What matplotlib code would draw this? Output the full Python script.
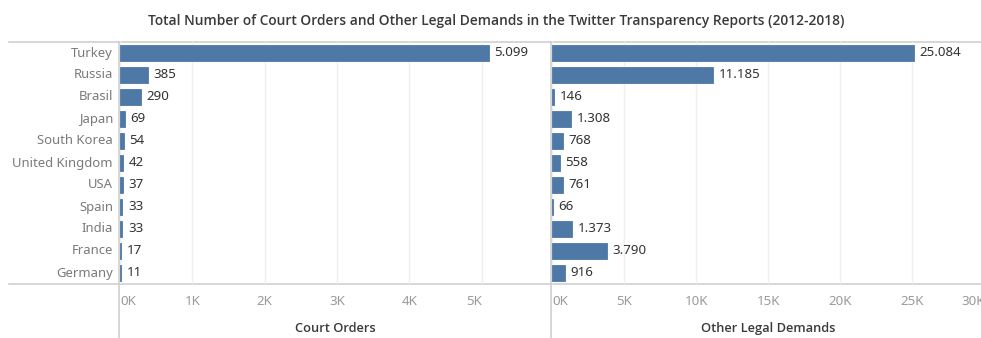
import matplotlib
matplotlib.use("Agg")
import matplotlib.pyplot as plt
from matplotlib.lines import Line2D

countries = ["Turkey", "Russia", "Brasil", "Japan", "South Korea", "United Kingdom",
             "USA", "Spain", "India", "France", "Germany"]
court_orders = [5099, 385, 290, 69, 54, 42, 37, 33, 33, 17, 11]
other_demands = [25084, 11185, 146, 1308, 768, 558, 761, 66, 1373, 3790, 916]
court_ticks = [0, 1000, 2000, 3000, 4000, 5000]
other_ticks = [0, 5000, 10000, 15000, 20000, 25000, 30000]

title = "Total Number of Court Orders and Other Legal Demands in the Twitter Transparency Reports (2012-2018)"

BAR = "#4e79a7"
FONT = ["Noto Sans", "DejaVu Sans"]
HEAD = ["Open Sans", "Noto Sans", "DejaVu Sans"]
plt.rcParams["font.family"] = FONT

W, H = 981, 338
fig = plt.figure(figsize=(W / 100, H / 100), dpi=100)


def fx(px):
    return px / W


def fy(py):
    return 1 - py / H


top_px, bot_px = 42, 284
left_box = [fx(120), fy(bot_px), fx(551 - 120), fy(top_px) - fy(bot_px)]
right_box = [fx(552), fy(bot_px), fx(984.5 - 552), fy(top_px) - fy(bot_px)]
ax1 = fig.add_axes(left_box)
ax2 = fig.add_axes(right_box)

ypos = list(range(len(countries)))


def thousands(v):
    return f"{v:,}".replace(",", ".")


def kfmt(v):
    return f"{int(v / 1000)}K"


def draw_panel(ax, values, ticks, xmax, label):
    ax.barh(ypos, values, height=0.72, color=BAR, edgecolor=BAR, lw=0.6, zorder=2)
    ax.set_ylim(len(countries) - 0.5, -0.5)
    ax.set_xlim(0, xmax)
    ax.set_yticks([])
    ax.set_xticks(ticks)
    ax.set_xticklabels([kfmt(t) for t in ticks], color="#9a9a9a", fontsize=9.6)
    ax.tick_params(axis="x", length=0, pad=8)
    labels = ax.get_xticklabels()
    labels[0].set_horizontalalignment("left")
    labels[-1].set_horizontalalignment("right")
    ax.grid(axis="x", color="#efefef", lw=1, zorder=0)
    for s in ax.spines.values():
        s.set_visible(False)
    for y, v in zip(ypos, values):
        ax.annotate(thousands(v), (v, y), xytext=(4, 0), textcoords="offset points",
                    va="center", ha="left", fontsize=9.6, color="#333333")
    ax.set_xlabel(label, fontsize=9.3, color="#3a3a3a", fontweight="semibold",
                  family=HEAD, labelpad=10)
    ax.patch.set_alpha(0)


draw_panel(ax1, court_orders, court_ticks, 5960, "Court Orders")
draw_panel(ax2, other_demands, other_ticks, 30000, "Other Legal Demands")

# country names to the left of the first panel, placed on the bar rows
for y, c in zip(ypos, countries):
    ax1.annotate(c, (0, y), xytext=(-7, 0), textcoords="offset pixels",
                 ha="right", va="center", fontsize=9.4, color="#7a7a7a",
                 annotation_clip=False)

# frame lines
line_col = "#d0d0d0"
fig.add_artist(Line2D([fx(9), 1], [fy(41.5), fy(41.5)], color=line_col, lw=1.2, zorder=0))
fig.add_artist(Line2D([fx(9), 1], [fy(284), fy(284)], color=line_col, lw=1.2, zorder=0))
fig.add_artist(Line2D([fx(119), fx(119)], [fy(41.5), 0], color=line_col, lw=1.2, zorder=0))
fig.add_artist(Line2D([fx(551), fx(551)], [fy(41.5), 0], color=line_col, lw=1.2, zorder=0))

fig.text(fx(496), fy(21), title, ha="center", va="center", fontsize=9.9,
         color="#3a3a3a", fontweight="semibold", family=HEAD)

fig.savefig("out.png", dpi=100)
